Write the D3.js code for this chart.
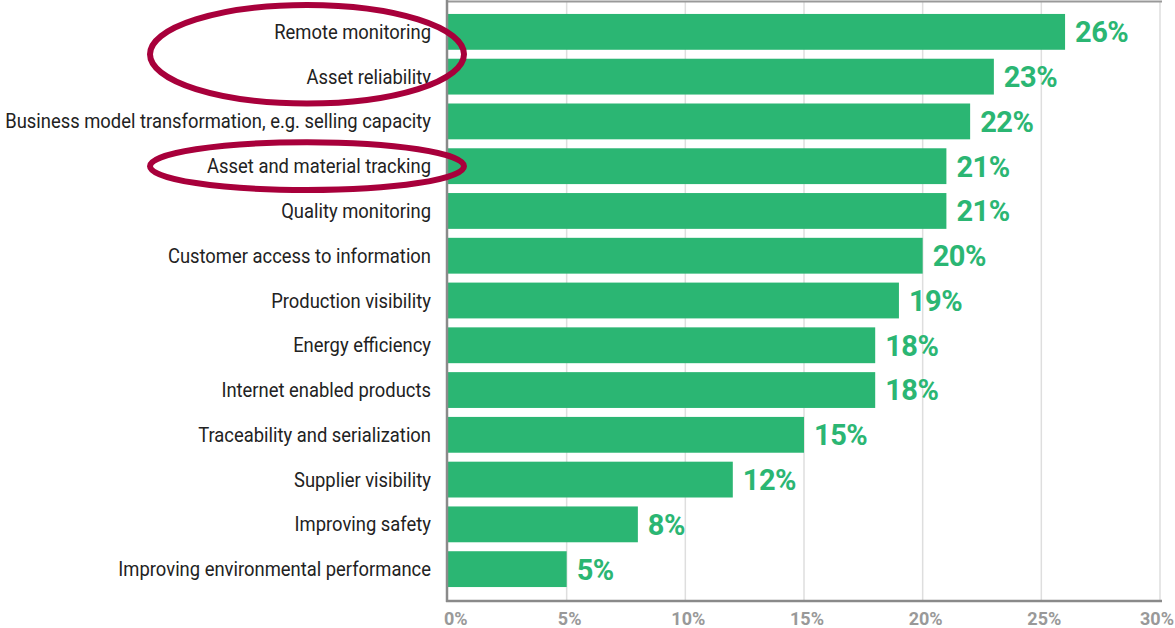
<!DOCTYPE html>
<html>
<head>
<meta charset="utf-8">
<script src="https://cdn.jsdelivr.net/npm/d3@7"></script>
<style>
  body { margin: 0; background: #fff; }
  text { font-family: "Roboto", "Liberation Sans", sans-serif; }
</style>
</head>
<body>
<div id="data-container"></div>
<script>
// chart values
const categories = [
  "Remote monitoring",
  "Asset reliability",
  "Business model transformation, e.g. selling capacity",
  "Asset and material tracking",
  "Quality monitoring",
  "Customer access to information",
  "Production visibility",
  "Energy efficiency",
  "Internet enabled products",
  "Traceability and serialization",
  "Supplier visibility",
  "Improving safety",
  "Improving environmental performance"
];
const values = [26, 23, 22, 21, 21, 20, 19, 18, 18, 15, 12, 8, 5];
const tickValues = [0, 5, 10, 15, 20, 25, 30];
const tickLabels = ["0%", "5%", "10%", "15%", "20%", "25%", "30%"];
// the highlighted rows (circled in the picture)
const circledGroups = [["Remote monitoring", "Asset reliability"], ["Asset and material tracking"]];

const data = categories.map((c, i) => ({name: c, value: values[i]}));

const svgWidth = 1175, svgHeight = 628;
const svg = d3.select("#data-container").append("svg")
  .attr("width", svgWidth)
  .attr("height", svgHeight);

const plotLeft = 448, plotRight = 1160, plotTop = 5, plotBottom = 596;
const green = "#2bb673";

const x = d3.scaleLinear().domain([0, 30]).range([plotLeft, plotRight]);
const y = d3.scaleBand().domain(categories).range([plotTop, plotBottom]).padding(0.2);

// grid lines
svg.append("g").selectAll("line")
  .data(tickValues.filter(d => d > 0))
  .enter().append("line")
    .attr("x1", d => x(d)).attr("x2", d => x(d))
    .attr("y1", 2).attr("y2", 600)
    .attr("stroke", "#dedede")
    .attr("stroke-width", 1.5);

// top frame line
svg.append("line")
  .attr("x1", plotLeft).attr("x2", x(30) + 2)
  .attr("y1", 1.5).attr("y2", 1.5)
  .attr("stroke", "#999").attr("stroke-width", 2);

// bars
svg.append("g").selectAll("rect")
  .data(data)
  .enter().append("rect")
    .attr("x", x(0))
    .attr("y", d => y(d.name))
    .attr("width", d => x(d.value) - x(0))
    .attr("height", y.bandwidth())
    .attr("fill", green);

// value labels
svg.append("g").selectAll("text")
  .data(data)
  .enter().append("text")
    .attr("x", d => x(d.value) + 10)
    .attr("y", d => y(d.name) + y.bandwidth() / 2)
    .attr("dy", "0.36em")
    .attr("fill", green)
    .attr("font-weight", "bold")
    .attr("font-size", 29)
    .attr("letter-spacing", -0.5)
    .text(d => d.value + "%");

// category labels - the source font is condensed, so squeeze horizontally
// until the longest label fits the space left of the axis
const labels = svg.append("g").selectAll("text")
  .data(data)
  .enter().append("text")
    .attr("text-anchor", "end")
    .attr("fill", "#222")
    .attr("font-size", 21)
    .text(d => d.name);

const longest = d3.max(labels.nodes(), n => n.getComputedTextLength());
const squeeze = Math.min(1, 426 / longest);
labels.attr("transform", d =>
  "translate(431," + (y(d.name) + y.bandwidth() / 2 + 7) + ") scale(" + squeeze + ",1)");

// axes lines
svg.append("line")
  .attr("x1", plotLeft - 1).attr("x2", plotLeft - 1)
  .attr("y1", 0).attr("y2", 602)
  .attr("stroke", "#8a8a8a").attr("stroke-width", 2.5);
svg.append("line")
  .attr("x1", plotLeft - 2).attr("x2", x(30) + 2)
  .attr("y1", 601).attr("y2", 601)
  .attr("stroke", "#8a8a8a").attr("stroke-width", 2.5);

// x tick labels
svg.append("g").selectAll("text")
  .data(tickValues)
  .enter().append("text")
    .attr("x", (d, i) => i === 0 ? x(d) - 4 : i === tickValues.length - 1 ? x(d) + 14 : x(d) + 3)
    .attr("y", 625)
    .attr("text-anchor", (d, i) => i === 0 ? "start" : i === tickValues.length - 1 ? "end" : "middle")
    .attr("fill", "#999")
    .attr("font-weight", "bold")
    .attr("font-size", 18)
    .text((d, i) => tickLabels[i]);

// highlight ellipses round the circled labels
circledGroups.forEach(group => {
  const y0 = y(group[0]);
  const y1 = y(group[group.length - 1]) + y.bandwidth();
  const pad = group.length > 1 ? 9 : 6;
  svg.append("ellipse")
    .attr("cx", 307)
    .attr("cy", (y0 + y1) / 2)
    .attr("rx", 157)
    .attr("ry", (y1 - y0) / 2 + pad)
    .attr("fill", "none")
    .attr("stroke", "#a8003b")
    .attr("stroke-width", 6);
});
</script>
</body>
</html>
